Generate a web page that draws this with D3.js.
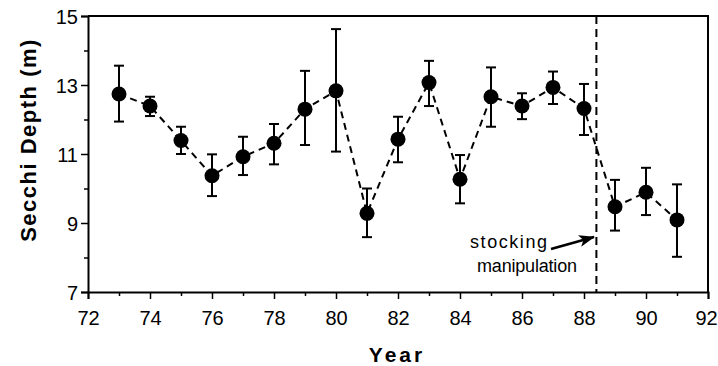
<!DOCTYPE html>
<html>
<head>
<meta charset="utf-8">
<script src="https://cdn.jsdelivr.net/npm/d3@7.9.0/dist/d3.min.js"></script>
<style>
  html, body { margin: 0; padding: 0; background: #fff; }
  svg { display: block; font-family: "Liberation Sans", Arial, Helvetica, sans-serif; }
  .tick text { font-size: 20px; fill: #000; }
</style>
</head>
<body>
<svg width="718" height="366"></svg>
<script>
// data
const years = [73, 74, 75, 76, 77, 78, 79, 80, 81, 82, 83, 84, 85, 86, 87, 88, 89, 90, 91];
const depth = [12.74, 12.39, 11.39, 10.37, 10.92, 11.31, 12.30, 12.83, 9.28, 11.43, 13.07, 10.27, 12.66, 12.39, 12.93, 12.32, 9.47, 9.89, 9.09];
const upper = [13.56, 12.66, 11.79, 10.99, 11.50, 11.87, 13.41, 14.62, 10.00, 12.08, 13.70, 10.97, 13.51, 12.76, 13.39, 13.03, 10.25, 10.60, 10.12];
const lower = [11.94, 12.10, 11.00, 9.78, 10.39, 10.70, 11.26, 11.07, 8.59, 10.76, 12.39, 9.57, 11.79, 12.01, 12.45, 11.55, 8.78, 9.23, 8.02];
const xMajor = [72, 74, 76, 78, 80, 82, 84, 86, 88, 90, 92];
const xMinor = [73, 75, 77, 79, 81, 83, 85, 87, 89, 91];
const yMajor = [7, 9, 11, 13, 15];
const yMinor = [8, 10, 12, 14];
const stockingYear = 88.4;

const data = years.map((y, i) => ({ year: y, v: depth[i], hi: upper[i], lo: lower[i] }));

const svg = d3.select('svg');
const x = d3.scaleLinear().domain([72, 92]).range([88, 708]);
const y = d3.scaleLinear().domain([7, 15]).range([292, 16]);

// frame (top + right)
svg.append('path')
  .attr('d', `M${x(72)},${y(15)}H${x(92)}V${y(7)}`)
  .attr('fill', 'none').attr('stroke', '#000').attr('stroke-width', 2);

// x axis
const gx = svg.append('g').attr('transform', `translate(0,${y(7)})`)
  .call(d3.axisBottom(x).tickValues(xMajor).tickSize(7).tickPadding(8).tickFormat(d3.format('d')));
svg.append('g').attr('transform', `translate(0,${y(7)})`)
  .call(d3.axisBottom(x).tickValues(xMinor).tickSize(4).tickFormat(''))
  .select('.domain').remove();

// y axis
const gy = svg.append('g').attr('transform', `translate(${x(72)},0)`)
  .call(d3.axisLeft(y).tickValues(yMajor).tickSize(7).tickPadding(3).tickFormat(d3.format('d')));
svg.append('g').attr('transform', `translate(${x(72)},0)`)
  .call(d3.axisLeft(y).tickValues(yMinor).tickSize(4).tickFormat(''))
  .select('.domain').remove();

svg.selectAll('.domain').attr('stroke-width', 2);
svg.selectAll('.tick line').attr('stroke-width', 1.5);
gx.selectAll('.tick text').attr('dy', '0.9em');
gx.selectAll('.tick text').filter(d => d === 92).attr('dx', -2);
gy.selectAll('.tick text').attr('dy', '0.36em');

// stocking line
svg.append('line')
  .attr('x1', x(stockingYear)).attr('x2', x(stockingYear))
  .attr('y1', y(15)).attr('y2', y(7))
  .attr('stroke', '#000').attr('stroke-width', 2)
  .attr('stroke-dasharray', '8,5');

// error bars
const eb = svg.append('g').attr('stroke', '#000').attr('stroke-width', 2);
data.forEach(d => {
  eb.append('line').attr('x1', x(d.year)).attr('x2', x(d.year)).attr('y1', y(d.hi)).attr('y2', y(d.lo));
  eb.append('line').attr('x1', x(d.year) - 5).attr('x2', x(d.year) + 5).attr('y1', y(d.hi)).attr('y2', y(d.hi));
  eb.append('line').attr('x1', x(d.year) - 5).attr('x2', x(d.year) + 5).attr('y1', y(d.lo)).attr('y2', y(d.lo));
});

// dashed series line
svg.append('path')
  .datum(data)
  .attr('d', d3.line().x(d => x(d.year)).y(d => y(d.v)))
  .attr('fill', 'none').attr('stroke', '#000').attr('stroke-width', 2)
  .attr('stroke-dasharray', '7,5');

// points
svg.selectAll('circle.pt')
  .data(data)
  .enter()
  .append('circle')
  .attr('class', 'pt')
  .attr('cx', d => x(d.year))
  .attr('cy', d => y(d.v))
  .attr('r', 7.5)
  .attr('fill', '#000');

// annotation
svg.append('text').attr('x', 470).attr('y', 248)
  .attr('font-size', 18).attr('textLength', 77).text('stocking');
svg.append('text').attr('x', 477).attr('y', 272)
  .attr('font-size', 18).attr('textLength', 100).text('manipulation');
svg.append('defs').append('marker')
  .attr('id', 'ah').attr('viewBox', '0 0 16 12')
  .attr('refX', 15).attr('refY', 6)
  .attr('markerWidth', 16).attr('markerHeight', 12)
  .attr('markerUnits', 'userSpaceOnUse')
  .attr('orient', 'auto')
  .append('path').attr('d', 'M0,0L16,6L0,12L4,6Z').attr('fill', '#000');
svg.append('line')
  .attr('x1', 551).attr('y1', 249).attr('x2', 594).attr('y2', 237)
  .attr('stroke', '#000').attr('stroke-width', 2.5)
  .attr('marker-end', 'url(#ah)');

// axis titles
svg.append('text')
  .attr('x', 397).attr('y', 362)
  .attr('text-anchor', 'middle')
  .attr('font-size', 21).attr('font-weight', 'bold')
  .attr('letter-spacing', 3)
  .text('Year');
svg.append('text')
  .attr('transform', 'translate(36,140) rotate(-90)')
  .attr('text-anchor', 'middle')
  .attr('font-size', 22).attr('font-weight', 'bold')
  .attr('letter-spacing', 1.5)
  .text('Secchi Depth (m)');
</script>
</body>
</html>
